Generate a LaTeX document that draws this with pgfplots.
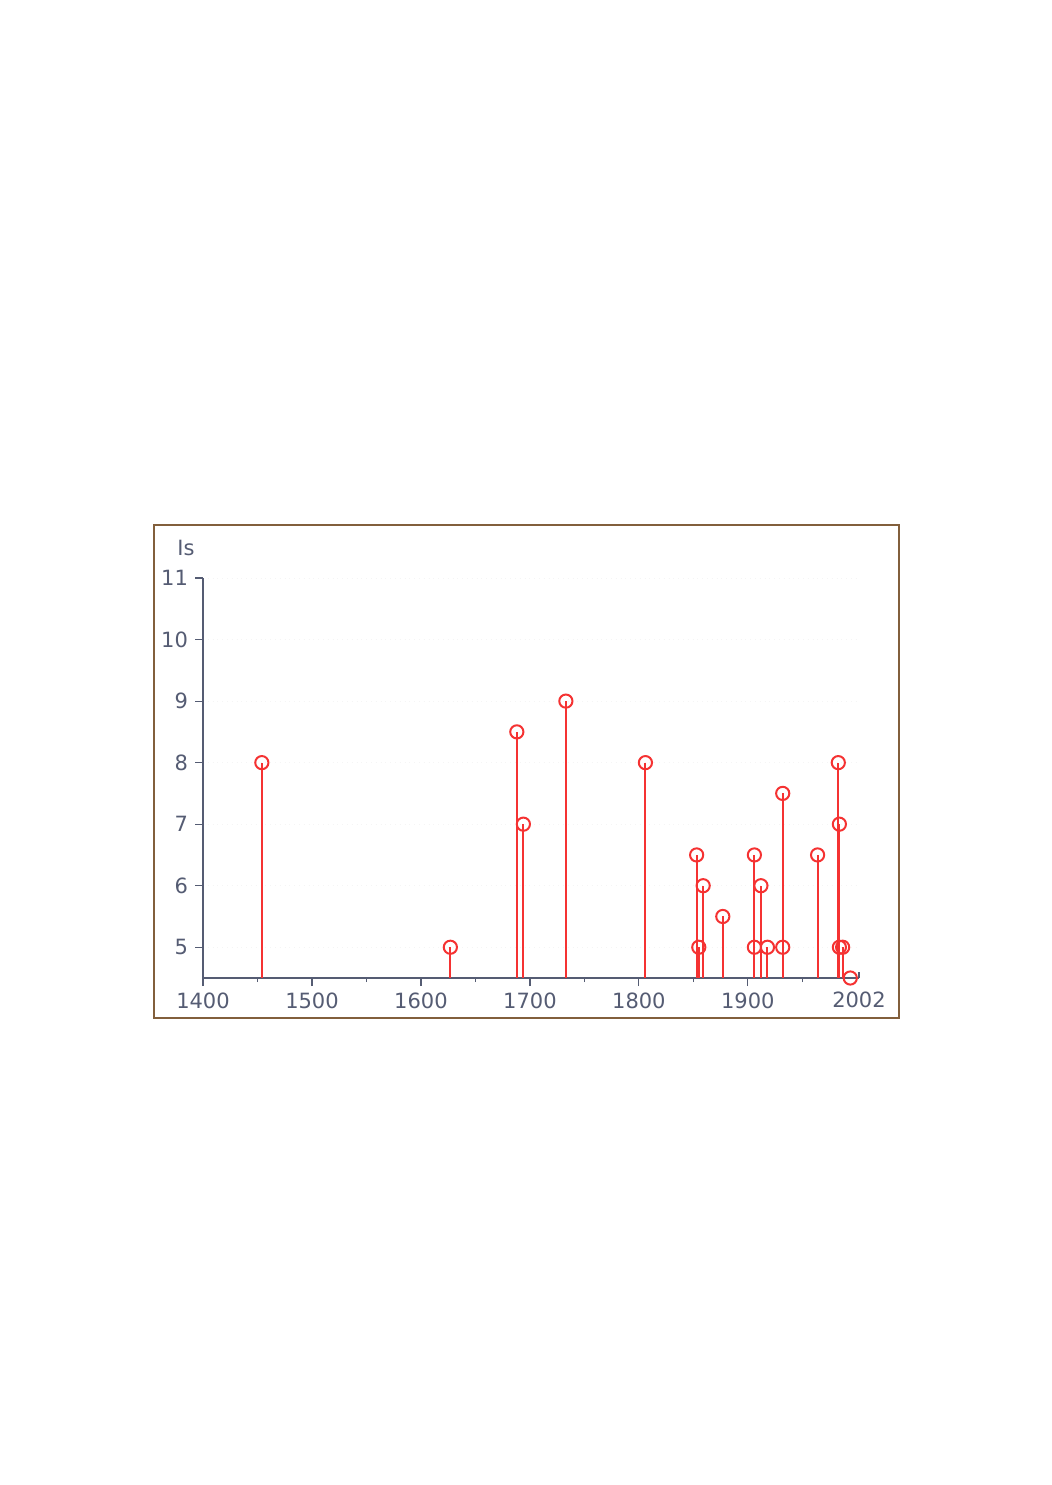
\documentclass[border=0pt]{standalone}
\usepackage{fontspec}
\setmainfont{DejaVu Sans}
\usepackage{pgfplots}
\pgfplotsset{compat=1.18}
\definecolor{stemc}{RGB}{245,50,50}
\definecolor{axc}{RGB}{85,92,115}
\definecolor{framec}{RGB}{130,95,60}
\begin{document}
\begin{tikzpicture}
\useasboundingbox (0,0) rectangle (526pt,-742.5pt);
\fill[white] (0,0) rectangle (526pt,-742.5pt);
\draw[framec, line width=0.8pt] (77pt,-262.5pt) rectangle (449.5pt,-509pt);
\begin{axis}[
  at={(101.5pt,-489pt)}, anchor=south west,
  scale only axis, width=328pt, height=200pt,
  xmin=1400, xmax=2002, ymin=4.5, ymax=11,
  axis lines*=left,
  axis line style={axc, line width=0.8pt},
  tick style={axc, line width=0.6pt},
  tick align=outside, major tick length=4pt, minor tick length=2pt,
  xtick={1400,1500,1600,1700,1800,1900},
  minor xtick={1450,1550,1650,1750,1850,1950},
  extra x ticks={2002},
  extra x tick style={tick align=inside, major tick length=3pt,
    xticklabel style={yshift=-3.5pt}},
  ytick={5,6,7,8,9,10,11},
  ymajorgrids, grid style={gray!8, dotted},
  /pgf/number format/.cd, 1000 sep={}, assume math mode=true,
  /pgfplots/.cd,
  tick label style={font=\fontsize{10.5}{12}\selectfont, text=axc},
  yticklabel style={xshift=0pt},
  xticklabel style={yshift=0pt},
  clip mode=individual,
]
\addplot[ycomb, stemc, line width=1pt, mark=o, mark size=3.3pt,
  mark options={fill=white, line width=1pt, solid}] coordinates {
  (1454,8) (1627,5) (1688,8.5) (1694,7) (1733,9) (1806,8)
  (1853,6.5) (1855,5) (1859,6) (1877,5.5)
  (1906,6.5) (1906,5) (1912,6) (1918,5)
  (1932,7.5) (1932,5) (1964,6.5)
  (1983,8) (1984,7) (1984,5) (1987,5) (1994,4.5)
};
\end{axis}
\node[text=axc, font=\fontsize{10.5}{12}\selectfont] at (93pt,-274pt) {Is};
\end{tikzpicture}
\end{document}
